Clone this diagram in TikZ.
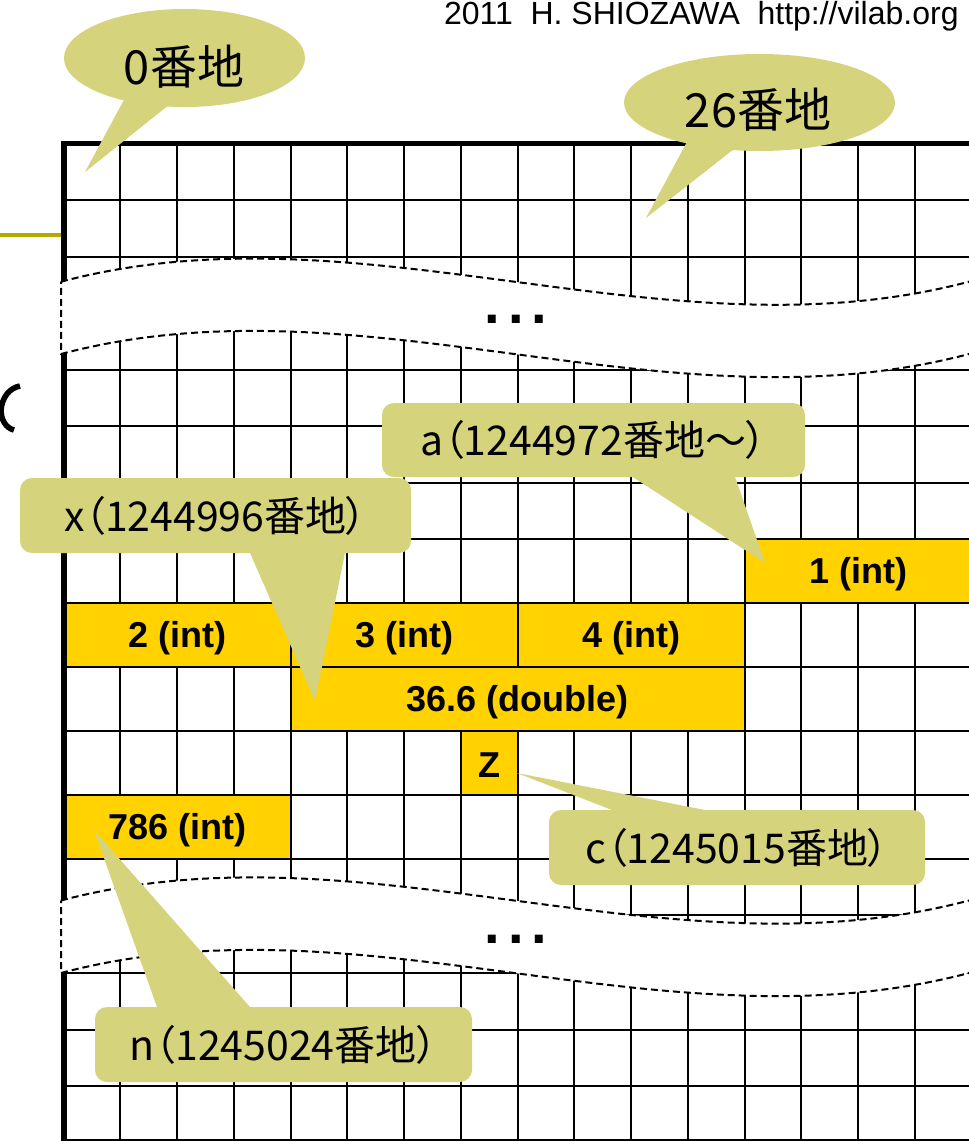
\documentclass[tikz,border=0pt]{standalone}
\usepackage{fontspec}
\setmainfont{Liberation Sans}
\newfontfamily\jp[RawFeature=+palt]{Noto Sans CJK JP}
\usetikzlibrary{shapes.geometric}
\definecolor{cbub}{RGB}{213,211,124}
\definecolor{cgold}{RGB}{255,210,0}
\definecolor{colive}{RGB}{178,170,0}
\begin{document}
\begin{tikzpicture}[x=0.5pt,y=-0.5pt,
  gridline/.style={line width=1pt,black},
  border/.style={line width=2.8pt,black},
  valbox/.style={draw=black,line width=1pt,fill=cgold,inner sep=0pt},
  valtxt/.style={font=\bfseries\fontsize{18}{20}\selectfont,inner sep=0pt,yshift=-1.5pt},
  callbox/.style={fill=cbub,rounded corners=6pt,inner sep=0pt,
    font=\jp\fontsize{20.5}{24}\selectfont},
  tail/.style={fill=cbub},
  bubble/.style={ellipse,fill=cbub,inner sep=0pt},
  bubtxt/.style={font=\jp\fontsize{23.5}{26}\selectfont,inner sep=0pt},
  wave/.style={fill=white,draw=black,line width=1pt,dash pattern=on 3.5pt off 2pt},
  dotstxt/.style={font=\bfseries\fontsize{28}{30}\selectfont,inner sep=0pt},
  credit/.style={font=\fontsize{16}{18}\selectfont,inner sep=0pt}
]
\useasboundingbox (0,0) rectangle (969,1141);
\clip (0,0) rectangle (969,1141);
\fill[white] (0,0) rectangle (969,1141);

% remnants of the slide
\draw[colive,line width=1.7pt] (0,235) -- (62,235);
\draw[line width=2.8pt] (20,386) .. controls (9,388) and (2,398) .. (1,410)
   .. controls (1,420) and (6,428) .. (14,430);

% grid
\foreach \i in {1,...,15}
  \draw[gridline] ({63.7+56.75*\i},143.3) -- ({63.7+56.75*\i},1142);
\foreach \y in {200,256.7,313.4,369.5,426,482.5,539,603,667,731,795,858.5,915.2,972.5,1029.5,1086.3}
  \draw[gridline] (63.7,\y) -- (975,\y);

% value boxes
\node[valbox,minimum width=113.5pt,minimum height=32pt] (v2) at (177.2,635) {};
\node[valbox,minimum width=113.5pt,minimum height=32pt] (v3) at (404.2,635) {};
\node[valbox,minimum width=113.5pt,minimum height=32pt] (v4) at (631.2,635) {};
\node[valbox,minimum width=113.5pt,minimum height=32pt] (v1) at (858.2,571) {};
\node[valbox,minimum width=227pt,minimum height=32pt] (vd) at (517.7,699) {};
\node[valbox,minimum width=28.375pt,minimum height=32pt] (vz) at (489.3,763) {};
\node[valbox,minimum width=113.5pt,minimum height=31.75pt] (vn) at (177.2,826.75) {};
\node[valtxt] (l2) at (v2) {2 (int)};
\node[valtxt] (l3) at (v3) {3 (int)};
\node[valtxt] (l4) at (v4) {4 (int)};
\node[valtxt] (l1) at (v1) {1 (int)};
\node[valtxt] (ld) at (vd) {36.6 (double)};
\node[valtxt,yshift=0.5pt] (lz) at (vz) {Z};
\node[valtxt] (ln) at (vn) {786 (int)};

% outer borders
\draw[border] (63.7,1142) -- (63.7,143.3) -- (975,143.3);
\draw[border] (63.7,1142) -- (975,1142);

% omitted regions
\draw[wave] (61,281.7) .. controls (363,201.7) and (665,361.7) .. (969,281.7)
  -- (990,281.7) -- (990,354) -- (969,354)
  .. controls (665,434) and (363,274) .. (61,354) -- cycle;
\draw[wave] (61,900.5) .. controls (363,820.5) and (665,980.5) .. (969,900.5)
  -- (990,900.5) -- (990,973) -- (969,973)
  .. controls (665,1053) and (363,893) .. (61,973) -- cycle;
\node[dotstxt] (dots1) at (516,319) {.\hspace{4pt}.\hspace{4pt}.};
\node[dotstxt] (dots2) at (516,939) {.\hspace{4pt}.\hspace{4pt}.};

% oval callouts
\coordinate (tip0) at (85,172);
\fill[tail] (125,98) -- (tip0) -- (170,104) -- cycle;
\node[bubble,minimum width=120.5pt,minimum height=49pt] (b0) at (184.5,58) {};
\node[bubtxt] (t0) at (184,67) {0番地};

\coordinate (tip26) at (646,218);
\fill[tail] (688,140) -- (tip26) -- (748,138) -- cycle;
\node[bubble,minimum width=135.5pt,minimum height=48.5pt] (b26) at (759.5,102.5) {};
\node[bubtxt] (t26) at (758,110) {26番地};

% rectangular callouts
\coordinate (tipa) at (765,563);
\fill[tail] (622,470) -- (tipa) -- (732.6,470) -- cycle;
\node[callbox,minimum width=211.5pt,minimum height=37pt] (ca) at (593.5,440) {a（1244972番地～）};

\coordinate (tipx) at (315,701);
\fill[tail] (246.5,545) -- (tipx) -- (346.6,545) -- cycle;
\node[callbox,minimum width=195.5pt,minimum height=37.5pt] (cx) at (215.5,515.5) {x（1244996番地）};

\coordinate (tipc) at (517,773);
\fill[tail] (632.5,818) -- (tipc) -- (745.6,818) -- cycle;
\node[callbox,minimum width=188pt,minimum height=37.5pt] (cc) at (737,847.5) {c（1245015番地）};

\coordinate (tipn) at (94,830);
\fill[tail] (159.8,1015) -- (tipn) -- (257,1015) -- cycle;
\node[callbox,minimum width=188.5pt,minimum height=37.5pt] (cn) at (283.5,1044.5) {n（1245024番地）};

% credit
\node[credit,anchor=base east] (cred) at (959,24) {2011\ \ H. SHIOZAWA\ \ http://vilab.org};
\end{tikzpicture}
\end{document}
